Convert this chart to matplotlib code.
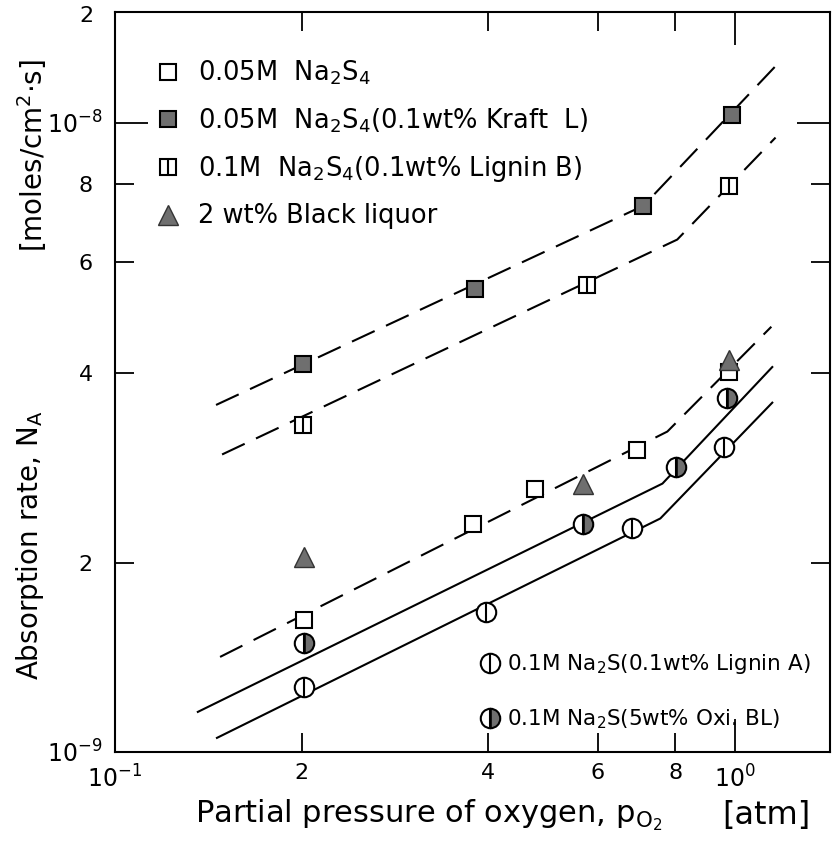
"""Absorption rate of oxygen vs. partial pressure (log-log), redrawn from a scanned figure."""

import matplotlib

matplotlib.use("Agg")
import matplotlib.pyplot as plt
from matplotlib.lines import Line2D
from matplotlib.legend_handler import HandlerTuple

# --- data (p_O2 in atm, N_A in moles/cm2.s) ---
kraft_x = [0.201, 0.381, 0.711, 0.986]
kraft_y = [4.14e-9, 5.45e-9, 7.38e-9, 1.03e-8]
kraft_fit_x = [0.1455, 0.711, 1.161]
kraft_fit_y = [3.56e-9, 7.38e-9, 1.23e-8]

ligb_x = [0.201, 0.577, 0.978]
ligb_y = [3.31e-9, 5.53e-9, 7.94e-9]
ligb_fit_x = [0.1488, 0.806, 1.161]
ligb_fit_y = [2.97e-9, 6.52e-9, 9.47e-9]

na2s4_x = [0.202, 0.378, 0.476, 0.693, 0.975]
na2s4_y = [1.62e-9, 2.30e-9, 2.62e-9, 3.02e-9, 4.02e-9]
na2s4_fit_x = [0.1477, 0.777, 1.143]
na2s4_fit_y = [1.416e-9, 3.23e-9, 4.74e-9]

black_x = [0.202, 0.569, 0.975]
black_y = [2.04e-9, 2.67e-9, 4.20e-9]

liga_x = [0.202, 0.397, 0.682, 0.960]
liga_y = [1.27e-9, 1.67e-9, 2.27e-9, 3.05e-9]
liga_fit_x = [0.146, 0.757, 1.147]
liga_fit_y = [1.053e-9, 2.35e-9, 3.59e-9]

oxi_x = [0.202, 0.569, 0.803, 0.971]
oxi_y = [1.49e-9, 2.30e-9, 2.84e-9, 3.65e-9]
oxi_fit_x = [0.136, 0.763, 1.147]
oxi_fit_y = [1.158e-9, 2.67e-9, 4.09e-9]

x_minor = [0.2, 0.4, 0.6, 0.8]
x_minor_labels = ["2", "4", "6", "8"]
y_minor = [2e-9, 4e-9, 6e-9, 8e-9]
y_minor_labels = ["2", "4", "6", "8"]

GRAY = "#6f6f6f"
DASH = (0, (12, 6))

plt.rcParams["font.family"] = ["DejaVu Sans"]
plt.rcParams["mathtext.fontset"] = "dejavusans"

fig = plt.figure(figsize=(8.37, 8.42), dpi=100)
ax = fig.add_axes([0.1374, 0.1069, 0.854, 0.879])
ax.set_xscale("log")
ax.set_yscale("log")
ax.set_xlim(0.1, 1.42)
ax.set_ylim(1e-9, 1.5e-8)

line_kw = dict(color="black", lw=1.5)
ax.plot(kraft_fit_x, kraft_fit_y, ls=DASH, **line_kw)
ax.plot(ligb_fit_x, ligb_fit_y, ls=DASH, **line_kw)
ax.plot(na2s4_fit_x, na2s4_fit_y, ls=DASH, **line_kw)
ax.plot(oxi_fit_x, oxi_fit_y, ls="-", **line_kw)
ax.plot(liga_fit_x, liga_fit_y, ls="-", **line_kw)

sq = dict(ls="none", marker="s", ms=12, mec="black", mew=1.5)
circ = dict(ls="none", marker="o", ms=14, mec="black", mew=1.5)
bar = dict(ls="none", marker="|", color="black", mew=1.5)
tri = dict(ls="none", marker="^", ms=14, mfc=GRAY, mec="#333333", mew=1.0)

ax.plot(na2s4_x, na2s4_y, mfc="white", zorder=3, **sq)
ax.plot(kraft_x, kraft_y, mfc=GRAY, zorder=3, **sq)
ax.plot(ligb_x, ligb_y, mfc="white", zorder=3, **sq)
ax.plot(ligb_x, ligb_y, ms=12, zorder=4, **bar)
ax.plot(black_x, black_y, zorder=5, **tri)
ax.plot(liga_x, liga_y, mfc="white", zorder=3, **circ)
ax.plot(liga_x, liga_y, ms=14, zorder=4, **bar)
ax.plot(oxi_x, oxi_y, mfc=GRAY, fillstyle="right", mfcalt="white", zorder=3, **circ)
ax.plot(oxi_x, oxi_y, ms=14, zorder=4, **bar)

# ticks: decades long, 2-4-6-8 short, all pointing inward on every side
ax.set_xticks([0.1, 1.0])
ax.set_xticklabels([r"$10^{-1}$", r"$10^{0}$"])
ax.set_xticks(x_minor, minor=True)
ax.set_xticklabels(x_minor_labels, minor=True)
ax.set_yticks([1e-9, 1e-8])
ax.set_yticklabels([r"$10^{-9}$", r"$10^{-8}$"])
ax.set_yticks(y_minor, minor=True)
ax.set_yticklabels(y_minor_labels, minor=True)
ax.tick_params(which="both", direction="in", top=True, right=True, width=1.3)
ax.tick_params(which="major", length=24, labelsize=17)
ax.tick_params(which="minor", length=14, labelsize=16)
ax.tick_params(axis="y", which="major", pad=9)
ax.tick_params(axis="y", which="minor", pad=16)
ax.tick_params(axis="x", which="major", pad=10)
ax.tick_params(axis="x", which="minor", pad=8)
ax.text(-0.03, 0.995, "2", transform=ax.transAxes, ha="right", va="center", fontsize=16)
for spine in ax.spines.values():
    spine.set_linewidth(1.5)

upper = [
    (Line2D([], [], mfc="white", **sq), r"0.05M  Na$_2$S$_4$"),
    (Line2D([], [], mfc=GRAY, **sq), r"0.05M  Na$_2$S$_4$(0.1wt% Kraft  L)"),
    ((Line2D([], [], mfc="white", **sq), Line2D([], [], ms=12, **bar)),
     r"0.1M  Na$_2$S$_4$(0.1wt% Lignin B)"),
    (Line2D([], [], **tri), "2 wt% Black liquor"),
]
leg1 = ax.legend([h for h, _ in upper], [t for _, t in upper], loc="upper left",
                 bbox_to_anchor=(0.022, 0.968), frameon=False, fontsize=18.5,
                 handlelength=1.1, handletextpad=0.6, labelspacing=0.75,
                 handler_map={tuple: HandlerTuple(ndivide=1, pad=0)})
ax.add_artist(leg1)

lower = [
    ((Line2D([], [], mfc="white", **circ), Line2D([], [], ms=14, **bar)),
     r"0.1M Na$_2$S(0.1wt% Lignin A)"),
    ((Line2D([], [], mfc=GRAY, fillstyle="right", mfcalt="white", **circ),
      Line2D([], [], ms=14, **bar)),
     r"0.1M Na$_2$S(5wt% Oxi. BL)"),
]
ax.legend([h for h, _ in lower], [t for _, t in lower], loc="lower right",
          bbox_to_anchor=(1.0, 0.002), frameon=False, fontsize=15.5,
          handlelength=1.0, handletextpad=0.3, labelspacing=1.45,
          handler_map={tuple: HandlerTuple(ndivide=1, pad=0)})

fig.text(0.036, 0.352, r"Absorption rate, N$_\mathrm{A}$", rotation=90, ha="center",
         va="center", fontsize=20)
fig.text(0.038, 0.815, r"[moles/cm$^2$$\cdot$s]", rotation=90, ha="center",
         va="center", fontsize=20)
fig.text(0.233, 0.032, r"Partial pressure of oxygen, p$_{\mathrm{O}_2}$", ha="left",
         va="center", fontsize=22)
fig.text(0.968, 0.032, "[atm]", ha="right", va="center", fontsize=23)

fig.savefig("out.png", dpi=100)
